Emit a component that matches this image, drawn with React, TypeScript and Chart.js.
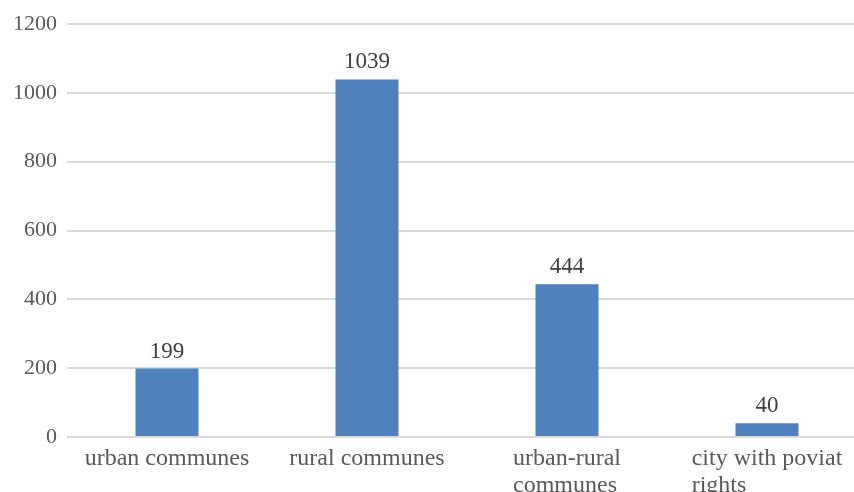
import React, { useEffect, useRef } from "react";
import { Chart, registerables } from "chart.js";

Chart.register(...registerables);

const categories: string[][] = [
  ["urban communes"],
  ["rural communes"],
  ["urban-rural", "communes"],
  ["city with poviat", "rights"],
];
const values: number[] = [199, 1039, 444, 40];
const yTicks = { min: 0, max: 1200, step: 200 };

const BAR_COLOR = "#4F81BD";
const FONT = "'Liberation Serif', 'Times New Roman', serif";

const labelsPlugin = {
  id: "customLabels",
  afterDatasetsDraw(chart: any) {
    const ctx = chart.ctx as CanvasRenderingContext2D;
    const meta = chart.getDatasetMeta(0);
    const xScale = chart.scales.x;
    ctx.save();
    // data labels
    ctx.font = `23px ${FONT}`;
    ctx.fillStyle = "#404040";
    ctx.textAlign = "center";
    ctx.textBaseline = "alphabetic";
    meta.data.forEach((bar: any, i: number) => {
      ctx.fillText(String(values[i]), bar.x, bar.y - 11);
    });
    // category labels (wrapped, left-aligned block centered on first line)
    ctx.font = `24px ${FONT}`;
    ctx.fillStyle = "#595959";
    ctx.textAlign = "left";
    categories.forEach((lines, i) => {
      const cx = xScale.getPixelForTick(i);
      const w = ctx.measureText(lines[0]).width;
      const left = cx - w / 2;
      lines.forEach((line, j) => {
        ctx.fillText(line, left, chart.chartArea.bottom + 28 + j * 27);
      });
    });
    ctx.restore();
  },
};

export default function App() {
  const ref = useRef<HTMLCanvasElement>(null);
  useEffect(() => {
    if (!ref.current) return;
    const chart = new Chart(ref.current, {
      type: "bar",
      data: {
        labels: categories.map((c) => c.join(" ")),
        datasets: [
          {
            data: values,
            backgroundColor: BAR_COLOR,
            barPercentage: 0.315,
            categoryPercentage: 1,
          },
        ],
      },
      plugins: [labelsPlugin],
      options: {
        responsive: false,
        animation: false,
        layout: { padding: { top: 24, left: 0, right: 0, bottom: 0 } },
        plugins: { legend: { display: false }, tooltip: { enabled: false } },
        scales: {
          x: {
            grid: { display: false },
            border: { display: false },
            ticks: { display: false },
            afterFit: (s: any) => {
              s.height = 55;
            },
          },
          y: {
            min: yTicks.min,
            max: yTicks.max,
            ticks: {
              stepSize: yTicks.step,
              color: "#595959",
              font: { family: FONT, size: 22 },
              padding: 10,
              callback: (v: any) => String(v),
            },
            grid: { color: "#d9d9d9", lineWidth: 2, drawTicks: false },
            border: { display: false },
            afterFit: (s: any) => {
              s.width = 67;
            },
          },
        },
      },
    });
    return () => chart.destroy();
  }, []);
  return (
    <div
      style={{
        position: "fixed",
        left: 0,
        top: 0,
        width: 854,
        height: 492,
        overflow: "hidden",
        background: "#fff",
      }}
    >
      <canvas ref={ref} width={867} height={492} style={{ display: "block" }} />
    </div>
  );
}
